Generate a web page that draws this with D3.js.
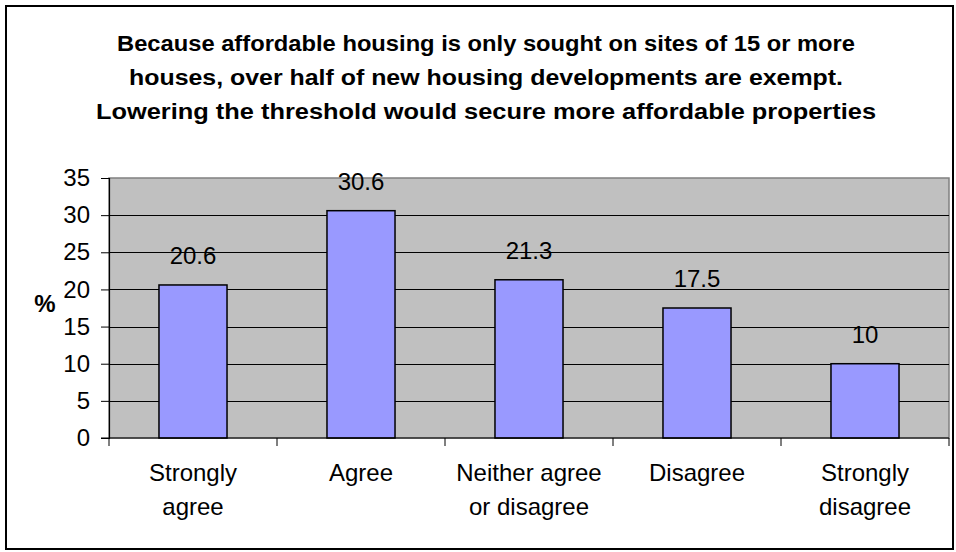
<!DOCTYPE html>
<html>
<head>
<meta charset="utf-8">
<script src="https://cdn.jsdelivr.net/npm/d3@7"></script>
<style>
  html, body { margin: 0; padding: 0; background: #ffffff; }
  svg { display: block; font-family: "Liberation Sans", Arial, sans-serif; }
</style>
</head>
<body>
<svg id="chart" width="956" height="552"></svg>
<script>
// Survey responses (% of respondents)
const categories = ["Strongly agree", "Agree", "Neither agree or disagree", "Disagree", "Strongly disagree"];
const categoryLines = [["Strongly", "agree"], ["Agree"], ["Neither agree", "or disagree"], ["Disagree"], ["Strongly", "disagree"]];
const values = [20.6, 30.6, 21.3, 17.5, 10];
const yTicks = [0, 5, 10, 15, 20, 25, 30, 35];
const titleLines = [
  "Because affordable housing is only sought on sites of 15 or more",
  "houses, over half of new housing developments are exempt.",
  "Lowering the threshold would secure more affordable properties"
];
// Rendered width of each title line (condensed bold face)
const titleWidths = [738, 714, 780];

const svg = d3.select("#chart");
const W = 956, H = 552;
const plot = { left: 109, right: 949, top: 178, bottom: 438 };

// Outer chart frame
svg.append("rect")
  .attr("x", 6).attr("y", 6)
  .attr("width", W - 9).attr("height", H - 9)
  .attr("fill", "#ffffff")
  .attr("stroke", "#000000")
  .attr("stroke-width", 2);

// Title
svg.append("g").selectAll("text")
  .data(titleLines)
  .join("text")
  .attr("x", 486)
  .attr("y", (d, i) => 51 + i * 34)
  .attr("text-anchor", "middle")
  .attr("font-weight", "bold")
  .attr("font-size", 22)
  .attr("textLength", (d, i) => titleWidths[i])
  .attr("lengthAdjust", "spacingAndGlyphs")
  .attr("fill", "#000")
  .text(d => d);

const x = d3.scaleBand()
  .domain(categories)
  .range([plot.left, plot.right])
  .paddingInner(0.595)
  .paddingOuter(0.2975);

const y = d3.scaleLinear()
  .domain([0, 35])
  .range([plot.bottom, plot.top]);

// Plot area background
svg.append("rect")
  .attr("x", plot.left).attr("y", plot.top)
  .attr("width", plot.right - plot.left)
  .attr("height", plot.bottom - plot.top)
  .attr("fill", "#c0c0c0")
  .attr("stroke", "#808080")
  .attr("stroke-width", 1.5);

// Horizontal gridlines
svg.append("g").selectAll("line")
  .data(yTicks.filter(t => t > 0 && t < 35))
  .join("line")
  .attr("x1", plot.left).attr("x2", plot.right)
  .attr("y1", d => Math.round(y(d)) + 0.5)
  .attr("y2", d => Math.round(y(d)) + 0.5)
  .attr("stroke", "#000")
  .attr("stroke-width", 1);

// Bars
svg.append("g").selectAll("rect")
  .data(values)
  .join("rect")
  .attr("x", (d, i) => x(categories[i]))
  .attr("y", d => y(d))
  .attr("width", x.bandwidth())
  .attr("height", d => y(0) - y(d))
  .attr("fill", "#9999ff")
  .attr("stroke", "#000")
  .attr("stroke-width", 1.5);

// Value labels
svg.append("g").selectAll("text")
  .data(values)
  .join("text")
  .attr("x", (d, i) => x(categories[i]) + x.bandwidth() / 2)
  .attr("y", d => y(d) - 21)
  .attr("text-anchor", "middle")
  .attr("font-size", 24)
  .attr("fill", "#000")
  .text(d => d);

// Y axis
const yAxis = d3.axisLeft(y).tickValues(yTicks).tickSize(8).tickPadding(11);
const yg = svg.append("g")
  .attr("transform", `translate(${plot.left},0)`)
  .call(yAxis);
yg.select(".domain").attr("stroke", "#000").attr("stroke-width", 1.2);
yg.selectAll(".tick line").attr("stroke", "#000");
yg.selectAll(".tick text")
  .attr("font-size", 24)
  .attr("font-family", "Liberation Sans, Arial, sans-serif")
  .attr("fill", "#000");

// X axis with ticks on category boundaries
const xAxisG = svg.append("g")
  .attr("transform", `translate(0,${plot.bottom})`);
xAxisG.append("line")
  .attr("x1", plot.left - 8).attr("x2", plot.right)
  .attr("y1", 0).attr("y2", 0)
  .attr("stroke", "#000").attr("stroke-width", 1.2);
const step = x.step();
const boundaries = d3.range(categories.length + 1).map(i => plot.left + i * step);
xAxisG.selectAll("line.tick")
  .data(boundaries)
  .join("line")
  .attr("class", "tick")
  .attr("x1", d => d).attr("x2", d => d)
  .attr("y1", 0).attr("y2", 8)
  .attr("stroke", "#000");

// Category labels
const catG = svg.append("g");
categories.forEach((c, i) => {
  const t = catG.append("text")
    .attr("x", x(c) + x.bandwidth() / 2)
    .attr("y", 481)
    .attr("text-anchor", "middle")
    .attr("font-size", 24)
    .attr("fill", "#000");
  categoryLines[i].forEach((line, j) => {
    t.append("tspan")
      .attr("x", x(c) + x.bandwidth() / 2)
      .attr("dy", j === 0 ? 0 : 34)
      .text(line);
  });
});

// Y axis title
svg.append("text")
  .attr("x", 45)
  .attr("y", 312)
  .attr("text-anchor", "middle")
  .attr("font-weight", "bold")
  .attr("font-size", 24)
  .attr("fill", "#000")
  .text("%");
</script>
</body>
</html>
